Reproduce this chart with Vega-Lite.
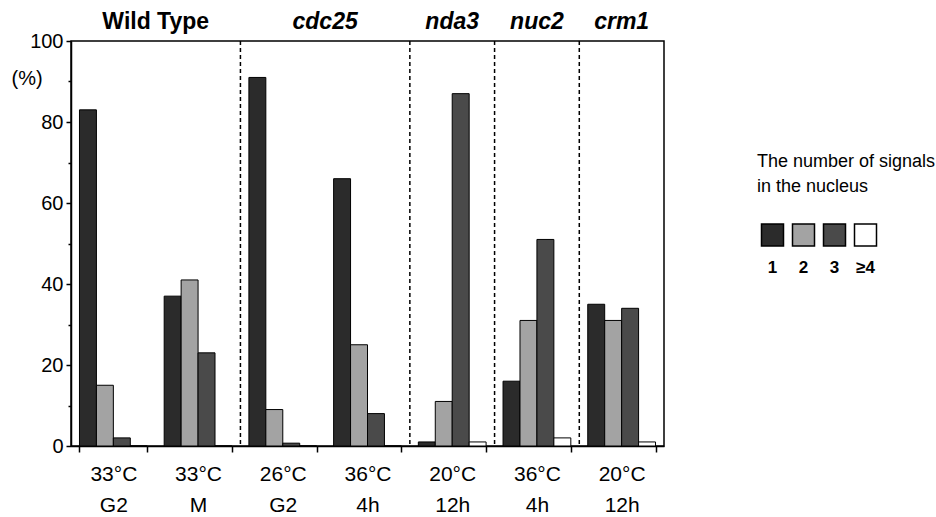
{
  "$schema": "https://vega.github.io/schema/vega-lite/v6.json",
  "padding": {"left": 10, "top": 10, "right": 5, "bottom": 5},
  "background": "white",
  "config": {
    "font": "Liberation Sans",
    "view": {"stroke": "black", "strokeWidth": 1.5}
  },
  "datasets": {
    "bars": [
      {"group": "wt|33°C|G2", "n": "1", "pct": 83},
      {"group": "wt|33°C|G2", "n": "2", "pct": 15},
      {"group": "wt|33°C|G2", "n": "3", "pct": 2},
      {"group": "wt|33°C|G2", "n": "≥4", "pct": 0},
      {"group": "wt|33°C|M", "n": "1", "pct": 37},
      {"group": "wt|33°C|M", "n": "2", "pct": 41},
      {"group": "wt|33°C|M", "n": "3", "pct": 23},
      {"group": "wt|33°C|M", "n": "≥4", "pct": 0},
      {"group": "cdc25|26°C|G2", "n": "1", "pct": 91},
      {"group": "cdc25|26°C|G2", "n": "2", "pct": 9},
      {"group": "cdc25|26°C|G2", "n": "3", "pct": 0.7},
      {"group": "cdc25|26°C|G2", "n": "≥4", "pct": 0},
      {"group": "cdc25|36°C|4h", "n": "1", "pct": 66},
      {"group": "cdc25|36°C|4h", "n": "2", "pct": 25},
      {"group": "cdc25|36°C|4h", "n": "3", "pct": 8},
      {"group": "cdc25|36°C|4h", "n": "≥4", "pct": 0},
      {"group": "nda3|20°C|12h", "n": "1", "pct": 1},
      {"group": "nda3|20°C|12h", "n": "2", "pct": 11},
      {"group": "nda3|20°C|12h", "n": "3", "pct": 87},
      {"group": "nda3|20°C|12h", "n": "≥4", "pct": 1},
      {"group": "nuc2|36°C|4h", "n": "1", "pct": 16},
      {"group": "nuc2|36°C|4h", "n": "2", "pct": 31},
      {"group": "nuc2|36°C|4h", "n": "3", "pct": 51},
      {"group": "nuc2|36°C|4h", "n": "≥4", "pct": 2},
      {"group": "crm1|20°C|12h", "n": "1", "pct": 35},
      {"group": "crm1|20°C|12h", "n": "2", "pct": 31},
      {"group": "crm1|20°C|12h", "n": "3", "pct": 34},
      {"group": "crm1|20°C|12h", "n": "≥4", "pct": 1}
    ],
    "dividers": [
      {"group": "cdc25|26°C|G2"},
      {"group": "nda3|20°C|12h"},
      {"group": "nuc2|36°C|4h"},
      {"group": "crm1|20°C|12h"}
    ],
    "titles": [
      {"label": "Wild Type", "group": "wt|33°C|M", "kind": "wt"},
      {"label": "cdc25", "group": "cdc25|36°C|4h", "kind": "pair"},
      {"label": "nda3", "group": "nda3|20°C|12h", "kind": "single"},
      {"label": "nuc2", "group": "nuc2|36°C|4h", "kind": "single"},
      {"label": "crm1", "group": "crm1|20°C|12h", "kind": "single"}
    ],
    "legend": [
      {"n": "1"}, {"n": "2"}, {"n": "3"}, {"n": "≥4"}
    ]
  },
  "bounds": "flush",
  "spacing": 93,
  "hconcat": [
    {
      "width": 593,
      "height": 405,
      "layer": [
        {
          "data": {"name": "bars"},
          "mark": {"type": "bar", "stroke": "black", "strokeWidth": 1},
          "encoding": {
            "x": {
              "field": "group", "type": "nominal",
              "scale": {
                "domain": ["wt|33°C|G2", "wt|33°C|M", "cdc25|26°C|G2", "cdc25|36°C|4h", "nda3|20°C|12h", "nuc2|36°C|4h", "crm1|20°C|12h"],
                "paddingInner": 0.2, "paddingOuter": 0.1
              },
              "axis": {
                "title": null,
                "labelExpr": "slice(split(datum.label, '|'), 1)",
                "labelAngle": 0,
                "labelFontSize": 21,
                "labelLineHeight": 31,
                "labelBaseline": "top",
                "labelPadding": 11,
                "labelColor": "black",
                "labelOverlap": false,
                "tickBand": "extent",
                "tickSize": 6,
                "tickColor": "black",
                "tickWidth": 1.5,
                "domainColor": "black",
                "domainWidth": 1.5
              }
            },
            "xOffset": {"field": "n", "type": "nominal", "sort": ["1", "2", "3", "≥4"]},
            "y": {
              "field": "pct", "type": "quantitative",
              "scale": {"domain": [0, 100], "nice": false},
              "axis": {
                "values": [0, 10, 20, 30, 40, 50, 60, 70, 80, 90, 100],
                "labelExpr": "datum.value % 20 === 0 ? datum.label : ''",
                "labelOverlap": false,
                "labelFontSize": 20,
                "labelColor": "black",
                "labelPadding": 3,
                "tickSize": {"condition": {"test": "datum.value % 20 === 0", "value": 5}, "value": 3},
                "tickColor": "black",
                "tickWidth": 1.5,
                "domainColor": "black",
                "domainWidth": 1.5,
                "grid": false,
                "title": "(%)",
                "titleAngle": 0,
                "titleX": -60,
                "titleY": 37,
                "titleAlign": "left",
                "titleBaseline": "middle",
                "titleFontSize": 20,
                "titleFontWeight": "normal",
                "titleColor": "black"
              }
            },
            "fill": {
              "field": "n", "type": "nominal",
              "scale": {"domain": ["1", "2", "3", "≥4"], "range": ["#2b2b2b", "#a3a3a3", "#4a4a4a", "#ffffff"]},
              "legend": null
            }
          }
        },
        {
          "data": {"name": "dividers"},
          "mark": {"type": "rule", "strokeDash": [4, 3], "strokeWidth": 1.5, "color": "black"},
          "encoding": {
            "x": {"field": "group", "type": "nominal", "bandPosition": -0.125, "axis": {"title": null}}
          }
        },
        {
          "data": {"name": "titles"},
          "transform": [{"filter": "datum.kind === 'wt'"}],
          "mark": {"type": "text", "fontSize": 23, "fontWeight": "bold", "baseline": "alphabetic", "dy": -12, "color": "black"},
          "encoding": {
            "x": {"field": "group", "type": "nominal", "bandPosition": -0.125, "axis": {"title": null}},
            "y": {"datum": 100, "type": "quantitative", "axis": {"title": "(%)"}},
            "text": {"field": "label"}
          }
        },
        {
          "data": {"name": "titles"},
          "transform": [{"filter": "datum.kind === 'pair'"}],
          "mark": {"type": "text", "fontSize": 23, "fontWeight": "bold", "fontStyle": "italic", "baseline": "alphabetic", "dy": -12, "color": "black"},
          "encoding": {
            "x": {"field": "group", "type": "nominal", "bandPosition": -0.125, "axis": {"title": null}},
            "y": {"datum": 100, "type": "quantitative", "axis": {"title": "(%)"}},
            "text": {"field": "label"}
          }
        },
        {
          "data": {"name": "titles"},
          "transform": [{"filter": "datum.kind === 'single'"}],
          "mark": {"type": "text", "fontSize": 23, "fontWeight": "bold", "fontStyle": "italic", "baseline": "alphabetic", "dy": -12, "color": "black"},
          "encoding": {
            "x": {"field": "group", "type": "nominal", "bandPosition": 0.5, "axis": {"title": null}},
            "y": {"datum": 100, "type": "quantitative", "axis": {"title": "(%)"}},
            "text": {"field": "label"}
          }
        }
      ]
    },
    {
      "width": 124,
      "height": 388,
      "view": {"stroke": null},
      "data": {"name": "legend"},
      "title": {
        "text": ["The number of signals", "in the nucleus"],
        "anchor": "start",
        "frame": "group",
        "orient": "top",
        "offset": -155,
        "fontSize": 18,
        "fontWeight": "normal",
        "lineHeight": 25,
        "color": "black"
      },
      "layer": [
        {
          "mark": {"type": "square", "size": 484, "opacity": 1, "stroke": "black", "strokeWidth": 1.5},
          "encoding": {
            "x": {"field": "n", "type": "nominal", "sort": ["1", "2", "3", "≥4"], "scale": {"type": "point", "padding": 0.5}, "axis": null},
            "fill": {
              "field": "n", "type": "nominal",
              "scale": {"domain": ["1", "2", "3", "≥4"], "range": ["#2b2b2b", "#a3a3a3", "#4a4a4a", "#ffffff"]},
              "legend": null
            }
          }
        },
        {
          "mark": {"type": "text", "dy": 33, "fontSize": 17, "fontWeight": "bold", "color": "black"},
          "encoding": {
            "x": {"field": "n", "type": "nominal", "sort": ["1", "2", "3", "≥4"], "scale": {"type": "point", "padding": 0.5}, "axis": null},
            "text": {"field": "n"}
          }
        }
      ]
    }
  ]
}
